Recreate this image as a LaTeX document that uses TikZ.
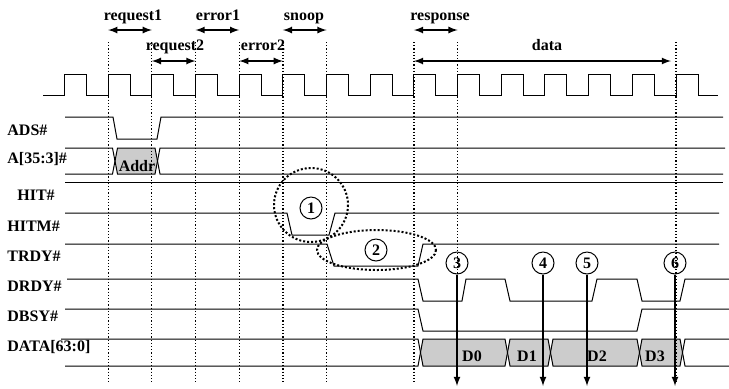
\documentclass[tikz,border=0pt]{standalone}
\usepackage{fontspec}
\setmainfont{Liberation Serif}
\usetikzlibrary{arrows,shapes,positioning}

\begin{document}
\begin{tikzpicture}[x=0.5pt,y=-0.5pt]
    \tikzstyle{lbl}=[font=\fontsize{8}{9.6}\selectfont\bfseries, inner sep=0pt]
    \tikzstyle{sig}=[line width=0.5pt]
    \tikzstyle{grid}=[densely dotted, line width=0.6pt]
    \tikzstyle{span}=[latex-latex, line width=0.6pt]
    \tikzstyle{probe}=[-latex, line width=0.6pt]
    \tikzstyle{ring}=[densely dotted, line width=1pt]
    \tikzstyle{num}=[circle, draw, line width=0.5pt, minimum size=11pt, inner sep=0pt, font=\fontsize{8}{9.6}\selectfont\bfseries]
    \tikzstyle{busfill}=[fill=black!20]
    \useasboundingbox (0,0) rectangle (729,388);

    % bus contents (drawn first, under the lines)
    \fill[busfill] (115,161) -- (117.5,148) -- (155,148) -- (157.5,161) -- (155,174) -- (117.5,174) -- cycle;
    \foreach \a/\b in {420.5/507.5, 507.5/550.5, 550.5/639.5, 639.5/682.5}
        \fill[busfill] (\a,352.5) -- (\a+2.5,339) -- (\b-2.5,339) -- (\b,352.5) -- (\b-2.5,366) -- (\a+2.5,366) -- cycle;

    % clock
    \draw[sig] (43,95) \foreach \k in {0,...,14} {
        -- ({64.5+43.68*\k},95) -- ({64.5+43.68*\k},74) -- ({86.5+43.68*\k},74) -- ({86.5+43.68*\k},95) } -- (718,95);

    % cycle boundaries
    \foreach \k in {1,...,6,8,9,14} {
        \coordinate (g\k) at ({64.5+43.68*\k},42);
        \draw[grid] (g\k) -- ++(0,340);
    }

    % phases
    \node[lbl, anchor=base] (request1) at (133,20.7) {request1};
    \node[lbl, anchor=base] (error1) at (218,20.7) {error1};
    \node[lbl, anchor=base] (snoop) at (304,20.7) {snoop};
    \node[lbl, anchor=base] (response) at (440,20.7) {response};
    \node[lbl, anchor=base] (request2) at (175,50.7) {request2};
    \node[lbl, anchor=base] (error2) at (263,50.7) {error2};
    \node[lbl, anchor=base] (data) at (547,50.7) {data};
    \coordinate (dataend) at (671,61);
    \draw[span] (g1 |- 0,30) -- (g2 |- 0,30);
    \draw[span] (g3 |- 0,30) -- (g4 |- 0,30);
    \draw[span] (g5 |- 0,30) -- (g6 |- 0,30);
    \draw[span] (g8 |- 0,30) -- (g9 |- 0,30);
    \draw[span] (g2 |- 0,61) -- (g3 |- 0,61);
    \draw[span] (g4 |- 0,61) -- (g5 |- 0,61);
    \draw[span] (g8 |- 0,61) -- (dataend);

    % signal names
    \node[lbl, anchor=base west] (ads) at (7,135) {ADS\#};
    \node[lbl, anchor=base west] (addr) at (7,163.3) {A[35:3]\#};
    \node[lbl, anchor=base west] (hit) at (17,200) {HIT\#};
    \node[lbl, anchor=base west] (hitm) at (7,231.7) {HITM\#};
    \node[lbl, anchor=base west] (trdy) at (7,261.7) {TRDY\#};
    \node[lbl, anchor=base west] (drdy) at (7,291.7) {DRDY\#};
    \node[lbl, anchor=base west] (dbsy) at (7,321.7) {DBSY\#};
    \node[lbl, anchor=base west] (dbus) at (7,351.7) {DATA[63:0]};

    % waveforms
    \draw[sig] (65,117) -- (113,117) -- (117,139) -- (157,139) -- (161,117) -- (723,117);
    \draw[sig] (65,148) -- (112.5,148) -- (117.5,174) -- (155,174) -- (160,148) -- (725,148);
    \draw[sig] (65,174) -- (112.5,174) -- (117.5,148) -- (155,148) -- (160,174) -- (723,174);
    \node[lbl, anchor=base] (addrval) at (137,171) {Addr};
    \draw[sig] (65,182) -- (723,182);
    \draw[sig] (65,213) -- (287,213) -- (292,235) -- (329,235) -- (335,213) -- (719,213);
    \draw[sig] (65,244) -- (327,244) -- (334,266) -- (418,266) -- (423,244) -- (719,244);
    \draw[sig] (67,279) -- (418,279) -- (423,301) -- (462,301) -- (466,279) -- (505,279) -- (510,301)
        -- (592,301) -- (597,279) -- (637,279) -- (642,301) -- (680,301) -- (685,279) -- (729,279);
    \draw[sig] (65,309) -- (418,309) -- (423,331) -- (637,331) -- (642,309) -- (729,309);
    \draw[sig] (61,339) -- (418,339) -- (423,366) -- (505,366) -- (510,339) -- (548,339) -- (553,366)
        -- (637,366) -- (642,339) -- (680,339) -- (685,366) -- (729,366);
    \draw[sig] (65,366) -- (418,366) -- (423,339) -- (505,339) -- (510,366) -- (548,366) -- (553,339)
        -- (637,339) -- (642,366) -- (680,366) -- (685,339) -- (729,339);
    \node[lbl, anchor=base] (d0) at (472,361.7) {D0};
    \node[lbl, anchor=base] (d1) at (527,361.7) {D1};
    \node[lbl, anchor=base] (d2) at (597,361.7) {D2};
    \node[lbl, anchor=base] (d3) at (655,361.7) {D3};

    % snoop and ready highlights
    \draw[ring] (311,205) circle [radius=37];
    \draw[ring] (376.5,250) ellipse [x radius=59.5, y radius=20];
    \node[num] (n1) at (311,208) {1};
    \node[num] (n2) at (376,250) {2};
    \node[num] (n3) at (457,263) {3};
    \node[num] (n4) at (543,263) {4};
    \node[num] (n5) at (587,263) {5};
    \node[num] (n6) at (675,263) {6};

    % data sampling points
    \coordinate (foot) at (0,386);
    \draw[probe] (n3) -- (n3 |- foot);
    \draw[probe] (n4) -- (n4 |- foot);
    \draw[probe] (n5) -- (n5 |- foot);
    \draw[probe] (n6) -- (n6 |- foot);
\end{tikzpicture}
\end{document}
